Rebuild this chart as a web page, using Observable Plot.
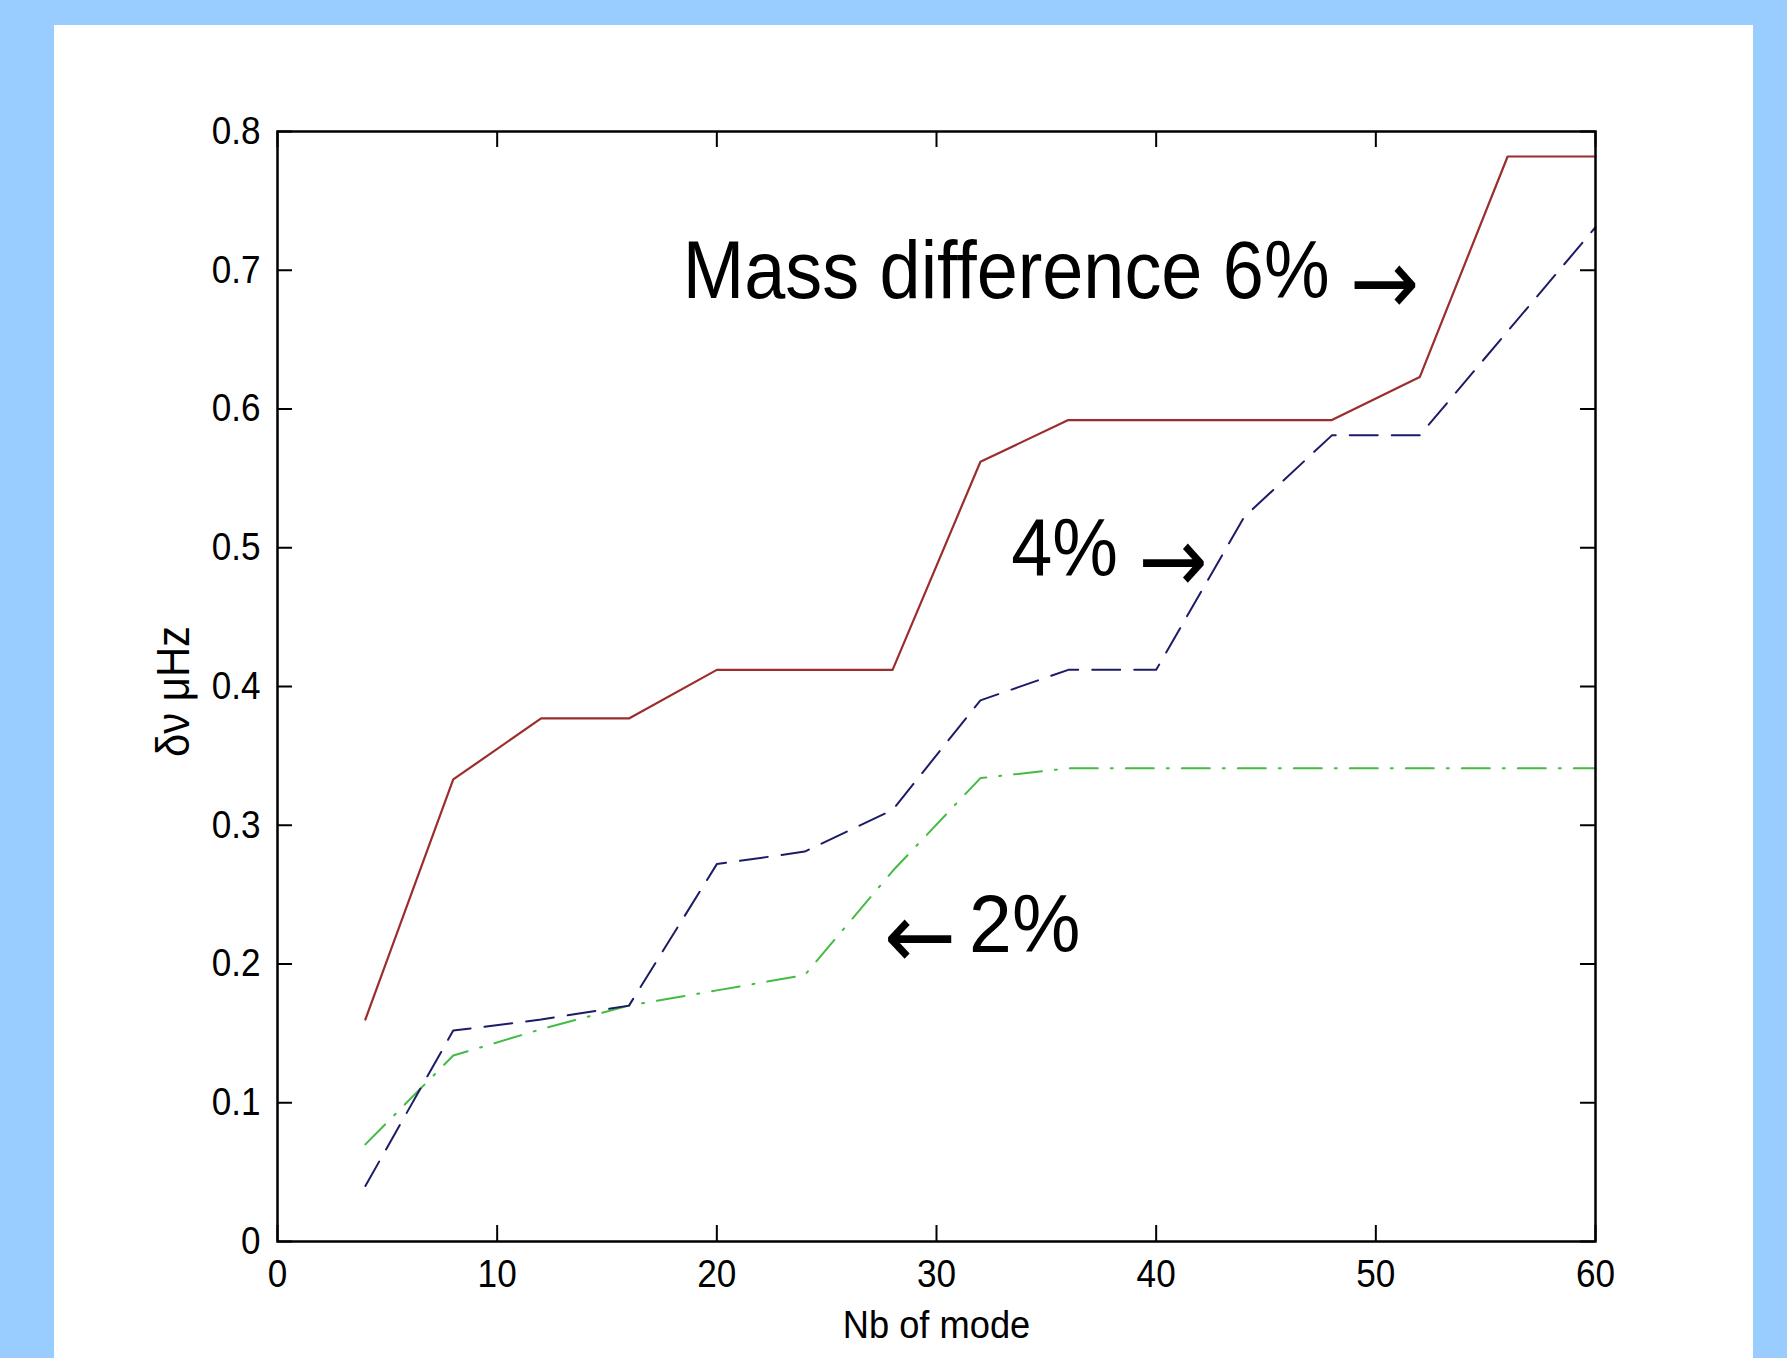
<!DOCTYPE html>
<html><head><meta charset="utf-8">
<script src="https://cdn.jsdelivr.net/npm/d3@7"></script>
<script src="https://cdn.jsdelivr.net/npm/@observablehq/plot@0.6"></script>
<style>
html,body{margin:0;padding:0;background:#99ccff;overflow:hidden;width:1787px;height:1358px;}
#panel{position:absolute;left:54px;top:25px;width:1699px;height:1333px;background:#ffffff;}
#chart{position:absolute;left:0;top:0;}
</style></head><body>
<div id="panel"></div><div id="chart"></div>
<script>
// ---- data ----
const modes = [4, 8, 12, 16, 20, 24, 28, 32, 36, 40, 44, 48, 52, 56, 60];
const diff6 = [0.160, 0.333, 0.377, 0.377, 0.412, 0.412, 0.412, 0.562, 0.592, 0.592, 0.592, 0.592, 0.623, 0.782, 0.782];
const diff4 = [0.040, 0.152, 0.160, 0.170, 0.272, 0.281, 0.311, 0.390, 0.412, 0.412, 0.522, 0.581, 0.581, 0.656, 0.731];
const diff2 = [0.070, 0.134, 0.153, 0.170, 0.181, 0.192, 0.267, 0.334, 0.341, 0.341, 0.341, 0.341, 0.341, 0.341, 0.341];
const xTicks = [0, 10, 20, 30, 40, 50, 60];
const xTickLabels = ["0", "10", "20", "30", "40", "50", "60"];
const yTicks = [0, 0.1, 0.2, 0.3, 0.4, 0.5, 0.6, 0.7, 0.8];
const yTickLabels = ["0", "0.1", "0.2", "0.3", "0.4", "0.5", "0.6", "0.7", "0.8"];
const annotationText = ["Mass difference 6% \u2192", "4% \u2192", "\u2190 2%"];
const annotationX = [18.45, 33.4, 27.6];
const annotationY = [0.680, 0.480, 0.209];
const xLabel = "Nb of mode";
const yLabel = "\u03b4\u03bd \u03bcHz";

// ---- layout ----
const W = 1787, H = 1358;
const mL = 277, mR = 192, mT = 131, mB = 117;
const innerW = W - mL - mR, innerH = H - mT - mB;
const baseFont = "'Liberation Sans', Arial, Helvetica, sans-serif";

const rows = (vals) => modes.map((m, i) => ({m, v: vals[i]}));
const annotations = annotationText.map((t, i) => ({t, x: annotationX[i], y: annotationY[i]}));

const xTickLen = 16, yTickLen = 15;

const svg = Plot.plot({
  width: W, height: H,
  marginLeft: mL, marginRight: mR, marginTop: mT, marginBottom: mB,
  style: {background: "transparent", overflow: "visible"},
  x: {domain: [0, 60]},
  y: {domain: [0, 0.8]},
  marks: [
    Plot.line(rows(diff2), {x: "m", y: "v", stroke: "#44bb44", strokeWidth: 2, strokeDasharray: "28,13,2,13"}),
    Plot.line(rows(diff4), {x: "m", y: "v", stroke: "#1c1c66", strokeWidth: 2, strokeDasharray: "28,14"}),
    Plot.line(rows(diff6), {x: "m", y: "v", stroke: "#9b2d2d", strokeWidth: 2.2}),
    // inward ticks on all four sides
    Plot.tickX(xTicks, {x: d => d, insetTop: innerH - xTickLen, stroke: "black", strokeWidth: 2}),
    Plot.tickX(xTicks, {x: d => d, insetBottom: innerH - xTickLen, stroke: "black", strokeWidth: 2}),
    Plot.tickY(yTicks, {y: d => d, insetRight: innerW - yTickLen, stroke: "black", strokeWidth: 2}),
    Plot.tickY(yTicks, {y: d => d, insetLeft: innerW - yTickLen, stroke: "black", strokeWidth: 2}),
    Plot.frame({stroke: "black", strokeWidth: 2.5}),
    Plot.axisX(xTicks, {anchor: "bottom", tickSize: 0, tickPadding: 18, label: null,
      tickFormat: d => xTickLabels[xTicks.indexOf(d)], fontSize: 39, fontFamily: baseFont, fill: "black"}),
    Plot.axisY(yTicks, {anchor: "left", tickSize: 0, tickPadding: 17, label: null,
      tickFormat: d => yTickLabels[yTicks.indexOf(d)], fontSize: 39, fontFamily: baseFont, fill: "black"}),
    Plot.text([xLabel], {frameAnchor: "bottom", dy: 84, text: d => d, textAnchor: "middle", lineAnchor: "middle",
      fontSize: 39, fontFamily: baseFont, fill: "black"}),
    Plot.text([yLabel], {frameAnchor: "left", rotate: -90, dx: -104, dy: 5, text: d => d,
      textAnchor: "middle", lineAnchor: "middle", fontSize: 47, fontFamily: baseFont, fill: "black"}),
    Plot.text(annotations, {x: "x", y: "y", text: "t", textAnchor: "start", lineAnchor: "bottom",
      fontSize: 82, fontFamily: baseFont, fill: "black"})
  ]
});
document.getElementById("chart").appendChild(svg);

// narrow the lettering like the original bitmap font
function condense(t, k) {
  const w = t.getComputedTextLength();
  if (w > 0) {
    t.setAttribute("textLength", (w * k).toFixed(1));
    t.setAttribute("lengthAdjust", "spacingAndGlyphs");
  }
}
const NS = "http://www.w3.org/2000/svg";
const arrowShift = 16; // arrows sit low, close to the baseline, as in the original
svg.querySelectorAll("text").forEach(t => {
  const s = t.textContent;
  if (annotationText.includes(s)) {
    t.textContent = "";
    let shifted = false;
    s.split(/([\u2190\u2192])/).filter(p => p.length).forEach(p => {
      const ts = document.createElementNS(NS, "tspan");
      ts.textContent = p;
      if (/[\u2190\u2192]/.test(p)) {
        ts.setAttribute("font-family", "'DejaVu Sans', sans-serif");
        ts.setAttribute("font-size", "92");
        ts.setAttribute("dy", arrowShift);
        shifted = true;
      } else if (shifted) {
        ts.setAttribute("dy", -arrowShift);
        ts.setAttribute("dx", -9);
        shifted = false;
      }
      t.appendChild(ts);
    });
    condense(t, 0.9);
  } else if (xTickLabels.includes(s) || yTickLabels.includes(s)) {
    condense(t, 0.9);
  } else if (s === xLabel) {
    condense(t, 0.93);
  } else if (s === yLabel) {
    condense(t, 0.89);
  }
});
</script>
</body></html>
